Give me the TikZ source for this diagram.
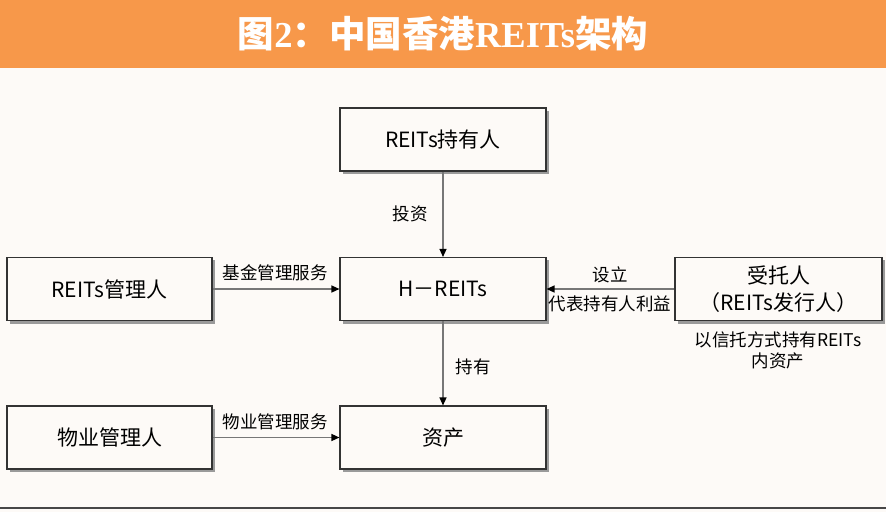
\documentclass[tikz,border=0pt]{standalone}
\usepackage{fontspec}
\setmainfont{Noto Sans CJK SC}
\newfontfamily\cjk{Noto Sans CJK SC}
\newfontfamily\titleserif{Liberation Serif}
\usetikzlibrary{arrows.meta}
\definecolor{bandorange}{HTML}{F7984A}
\definecolor{bgcream}{HTML}{FDFAF7}
\definecolor{boxline}{HTML}{333333}
\definecolor{arrowgray}{HTML}{777777}
\definecolor{shadowgray}{HTML}{9A9A9A}
\tikzset{
  x=1pt, y=-1pt,
  boxnode/.style={draw=boxline, line width=1.1pt, fill=bgcream, minimum width=206pt, minimum height=63pt, inner sep=0pt, font=\fontsize{21}{25}\selectfont, align=center},
  lbl/.style={font=\fontsize{17.5}{20}\selectfont, inner sep=0pt, align=center},
  conn/.style={draw=arrowgray, line width=1.3pt, -{Triangle[length=8pt,width=7pt,fill=black,color=black]}},
}
\newcommand{\shadowbox}[4]{\fill[shadowgray] (#1+2.5,#2+2.5) rectangle (#3+2.5,#4+2.5);}
\begin{document}
\begin{tikzpicture}
\useasboundingbox (0,0) rectangle (886,512);
\fill[bgcream] (0,0) rectangle (886,512);
\fill[bandorange] (0,0) rectangle (886,68);
\node[text=white, inner sep=0pt] (title) at (443,34) {\fontsize{36.5}{40}\selectfont\bfseries 图{\titleserif\bfseries 2}：中国香港{\titleserif\bfseries REITs}架构};
\draw[boxline!90, line width=1.6pt] (0,508) -- (886,508);
% shadows
\shadowbox{340}{108}{546}{171}
\shadowbox{340}{257}{546}{321}
\shadowbox{340}{406}{546}{469}
\shadowbox{7}{257}{212}{321}
\shadowbox{7}{406}{212}{469}
\shadowbox{675}{257}{882}{321}
% boxes
\node[boxnode] (holder) at (443,139.5) {REITs持有人};
\node[boxnode] (hreits) at (443,289) {H－REITs};
\node[boxnode] (asset) at (443,437.5) {资产};
\node[boxnode, minimum width=205pt] (mgr) at (109.5,289) {REITs管理人};
\node[boxnode, minimum width=205pt] (prop) at (109.5,437.5) {物业管理人};
\node[boxnode, minimum width=207pt, font=\fontsize{21}{27}\selectfont] (trustee) at (778.5,289) {受托人\\（REITs发行人）};
% connectors
\draw[conn] (holder) -- (hreits);
\draw[conn] (hreits) -- (asset);
\draw[conn] (mgr) -- (hreits);
\draw[conn] (prop) -- (asset);
\draw[conn] (trustee) -- (hreits);
% labels
\node[lbl] (l1) at (410,214) {投资};
\node[lbl] (l2) at (473,367) {持有};
\node[lbl] (l3) at (275,273) {基金管理服务};
\node[lbl] (l4) at (275,422) {物业管理服务};
\node[lbl] (l5) at (610,275) {设立};
\node[lbl] (l6) at (610,304) {代表持有人利益};
\node[lbl, font=\fontsize{17.5}{21}\selectfont] (l7) at (778,350) {以信托方式持有REITs\\内资产};
\end{tikzpicture}
\end{document}
